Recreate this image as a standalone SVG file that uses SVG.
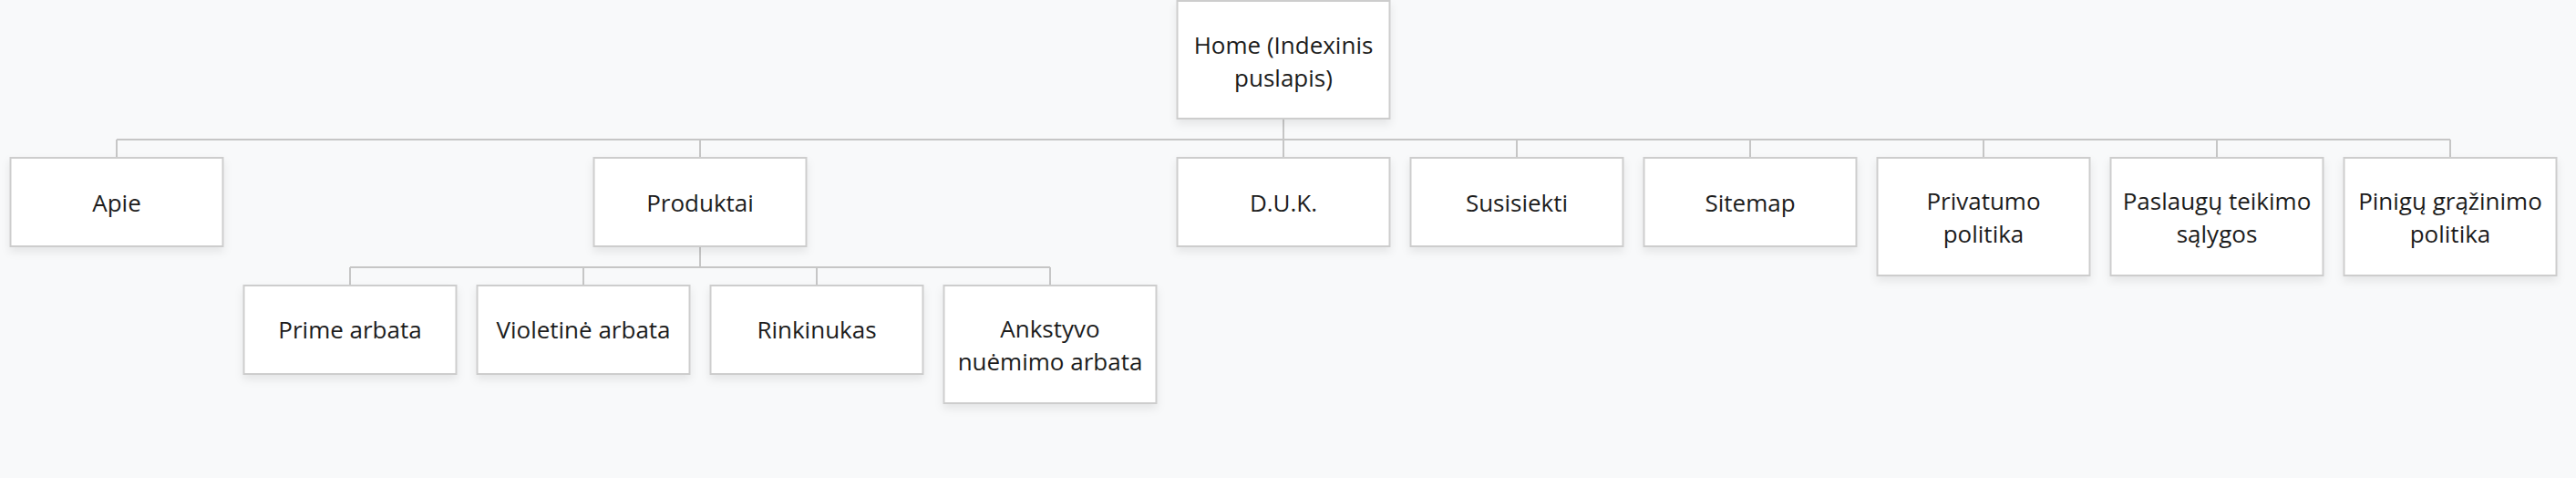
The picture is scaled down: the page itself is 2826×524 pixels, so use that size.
<svg xmlns="http://www.w3.org/2000/svg" width="2826" height="524" viewBox="0 0 2826 524">
<defs>
<filter id="sh" x="-10%" y="-10%" width="125%" height="135%">
<feDropShadow dx="0" dy="5" stdDeviation="5" flood-color="#000" flood-opacity="0.08"/>
</filter>
<style>
.box{fill:#fff;stroke:#cdcdcd;stroke-width:2;filter:url(#sh)}
.t{font-family:"Open Sans","Noto Sans","DejaVu Sans",sans-serif;font-size:26px;fill:#1c1c1c;text-anchor:middle}
.c{fill:none;stroke:#c6c6c6;stroke-width:2}
</style>
</defs>
<rect width="2826" height="524" fill="#f8f9fa"/>
<g id="connectors">
<path class="c" d="M1408 130V153M128 153H2688M128 153V172M768 153V172M1408 153V172M1664 153V172M1920 153V172M2176 153V172M2432 153V172M2688 153V172"/>
<path class="c" d="M768 270V293M384 293H1152M384 293V312M640 293V312M896 293V312M1152 293V312"/>
</g>
<g id="home"><rect class="box" x="1291.5" y="1" width="233" height="129"/><text class="t" x="1408" y="58.5">Home (Indexinis</text><text class="t" x="1408" y="94.5">puslapis)</text></g>
<g id="apie"><rect class="box" x="11.5" y="173" width="233" height="97"/><text class="t" x="128" y="231.5">Apie</text></g>
<g id="produktai"><rect class="box" x="651.5" y="173" width="233" height="97"/><text class="t" x="768" y="231.5">Produktai</text></g>
<g id="duk"><rect class="box" x="1291.5" y="173" width="233" height="97"/><text class="t" x="1408" y="231.5">D.U.K.</text></g>
<g id="susisiekti"><rect class="box" x="1547.5" y="173" width="233" height="97"/><text class="t" x="1664" y="231.5">Susisiekti</text></g>
<g id="sitemap"><rect class="box" x="1803.5" y="173" width="233" height="97"/><text class="t" x="1920" y="231.5">Sitemap</text></g>
<g id="privatumo"><rect class="box" x="2059.5" y="173" width="233" height="129"/><text class="t" x="2176" y="230">Privatumo</text><text class="t" x="2176" y="266">politika</text></g>
<g id="paslaugu"><rect class="box" x="2315.5" y="173" width="233" height="129"/><text class="t" x="2432" y="230">Paslaugų teikimo</text><text class="t" x="2432" y="266">sąlygos</text></g>
<g id="pinigu"><rect class="box" x="2571.5" y="173" width="233" height="129"/><text class="t" x="2688" y="230">Pinigų grąžinimo</text><text class="t" x="2688" y="266">politika</text></g>
<g id="prime"><rect class="box" x="267.5" y="313" width="233" height="97"/><text class="t" x="384" y="371">Prime arbata</text></g>
<g id="violetine"><rect class="box" x="523.5" y="313" width="233" height="97"/><text class="t" x="640" y="371">Violetinė arbata</text></g>
<g id="rinkinukas"><rect class="box" x="779.5" y="313" width="233" height="97"/><text class="t" x="896" y="371">Rinkinukas</text></g>
<g id="ankstyvo"><rect class="box" x="1035.5" y="313" width="233" height="129"/><text class="t" x="1152" y="370">Ankstyvo</text><text class="t" x="1152" y="406">nuėmimo arbata</text></g>
</svg>
